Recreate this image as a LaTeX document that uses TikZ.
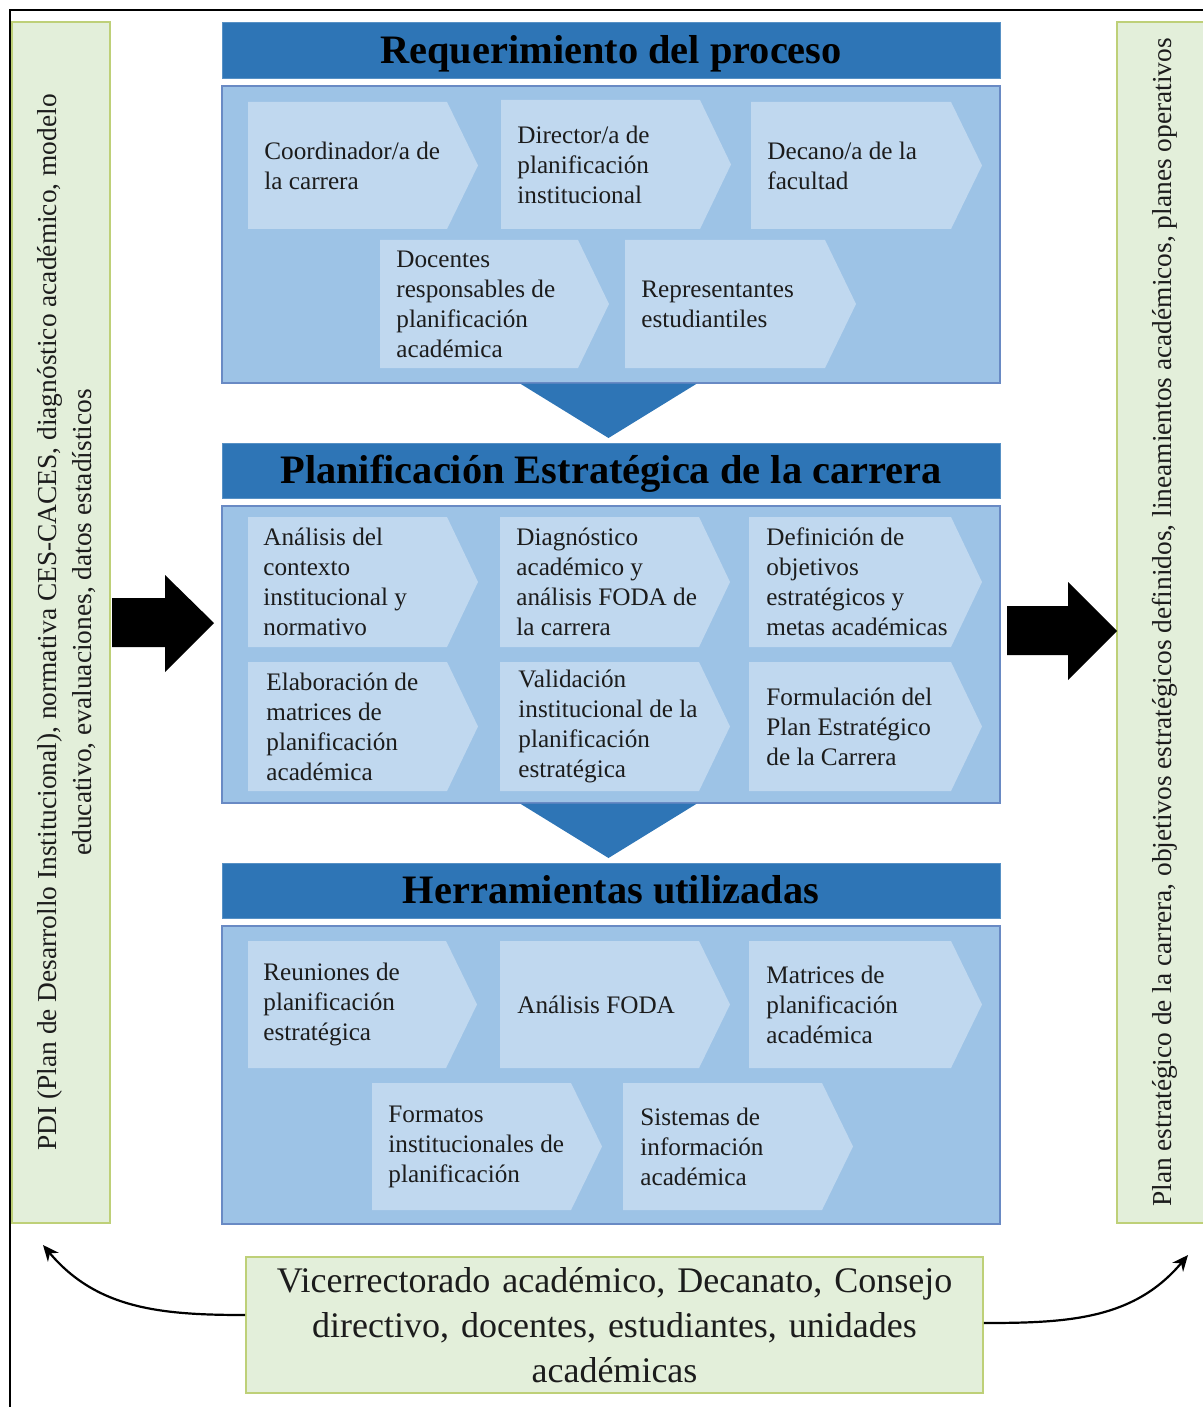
\documentclass[tikz,border=0pt]{standalone}
\usepackage{fontspec}
\setmainfont{Liberation Serif}
\usetikzlibrary{arrows.meta}
\definecolor{titleblue}{RGB}{46,117,182}
\definecolor{panelblue}{RGB}{157,195,230}
\definecolor{panelborder}{RGB}{105,138,196}
\definecolor{chevblue}{RGB}{192,216,239}
\definecolor{greenfill}{RGB}{227,239,218}
\definecolor{greenborder}{RGB}{190,208,120}
\definecolor{inktext}{RGB}{28,28,28}
\tikzset{
  titlebar/.style={fill=titleblue, draw=titleblue!80!white, line width=0.4pt, inner sep=0pt,
    minimum width=389pt, text height=13.3pt, text depth=0pt,
    font=\bfseries\fontsize{20.2}{24}\selectfont, text=black},
  panel/.style={fill=panelblue, draw=panelborder, line width=0.6pt, inner sep=0pt, minimum width=389pt},
  chevfill/.style={fill=chevblue},
  chevtext/.style={inner sep=0pt, align=left, anchor=west, text=inktext,
    font=\fontsize{12.6}{15}\selectfont},
  sidepanel/.style={fill=greenfill, draw=greenborder, line width=0.7pt, inner sep=0pt},
  sidetext/.style={inner sep=0pt, align=center, rotate=90, text=inktext,
    font=\fontsize{13.7}{17.5}\selectfont},
  actorbox/.style={fill=greenfill, draw=greenborder, line width=0.8pt, inner sep=0pt,
    align=center, text width=360pt, text=inktext, font=\fontsize{18}{22.5}\selectfont},
  blockarrow/.style={fill=black},
  curvearrow/.style={line width=1.1pt, -{Stealth[length=8pt,width=7pt]}},
  funnel/.style={fill=titleblue}
}
\newcommand{\chevbox}[7]{%
  \fill[chevfill] (#1,#2) -- ({#3-31},#2) -- (#3,{(#2+#4)/2}) -- ({#3-31},#4) -- (#1,#4) -- cycle;
  \node[chevtext] (#5) at (#6,{(#2+#4)/2}) {#7};
}
\begin{document}
\begin{tikzpicture}[x=0.5pt,y=-0.5pt]
\useasboundingbox (0,0) rectangle (1203,1407);
% outer frame
\draw[line width=1.1pt] (10,1430) -- (10,10) -- (1230,10);

% side panels
\node[sidepanel, minimum width=49pt, minimum height=600.5pt] (inpanel) at (61,622.5) {};
\node[sidetext] (intext) at (67,622.5) {PDI (Plan de Desarrollo Institucional), normativa CES-CACES, diagnóstico académico, modelo\\educativo, evaluaciones, datos estadísticos};
\node[sidepanel, minimum width=48pt, minimum height=600.5pt] (outpanel) at (1165,622.5) {};
\node[sidetext] (outtext) at (1165,622.5) {Plan estratégico de la carrera, objetivos estratégicos definidos, lineamientos académicos, planes operativos};

% titles
\node[titlebar, minimum height=28pt] (t1) at (611,50) {Requerimiento del proceso};
\node[titlebar, minimum height=27.5pt] (t2) at (611,470.5) {Planificación Estratégica de la carrera};
\node[titlebar, minimum height=27.5pt] (t3) at (611,890.5) {Herramientas utilizadas};

% panels
\node[panel, minimum height=148.5pt] (p1) at (611,234.5) {};
\node[panel, minimum height=148.5pt] (p2) at (611,654.5) {};
\node[panel, minimum height=149pt] (p3) at (611,1075) {};

% funnels
\fill[funnel] (520,383.5) -- (697,383.5) -- (608.5,438) -- cycle;
\fill[funnel] (520,803.5) -- (697,803.5) -- (608.5,858) -- cycle;

% panel 1 chevrons
\chevbox{248}{102}{478}{229}{c11}{264}{Coordinador/a de\\la carrera}
\chevbox{501}{100}{731}{229}{c12}{517}{Director/a de\\planificación\\institucional}
\chevbox{751}{102}{982}{229}{c13}{767}{Decano/a de la\\facultad}
\chevbox{380}{240}{609}{368}{c14}{396}{Docentes\\responsables de\\planificación\\académica}
\chevbox{625}{240}{856}{368}{c15}{641}{Representantes\\estudiantiles}

% panel 2 chevrons
\chevbox{248}{517}{478}{647}{c21}{263}{Análisis del\\contexto\\institucional y\\normativo}
\chevbox{500}{517}{730}{647}{c22}{516}{Diagnóstico\\académico y\\análisis FODA de\\la carrera}
\chevbox{749}{517}{982}{647}{c23}{766}{Definición de\\objetivos\\estratégicos y\\metas académicas}
\chevbox{248}{662}{478}{791}{c24}{266}{Elaboración de\\matrices de\\planificación\\académica}
\chevbox{500}{662}{730}{791}{c25}{518}{Validación\\institucional de la\\planificación\\estratégica}
\chevbox{749}{662}{982}{791}{c26}{766}{Formulación del\\Plan Estratégico\\de la Carrera}

% panel 3 chevrons
\chevbox{248}{941}{477}{1068}{c31}{263}{Reuniones de\\planificación\\estratégica}
\chevbox{500}{941}{730}{1068}{c32}{517}{Análisis FODA}
\chevbox{749}{941}{982}{1068}{c33}{766}{Matrices de\\planificación\\académica}
\chevbox{372}{1083}{602}{1210}{c34}{388}{Formatos\\institucionales de\\planificación}
\chevbox{623}{1083}{853}{1210}{c35}{640}{Sistemas de\\información\\académica}

% block arrows
\fill[blockarrow] (112,598) -- (165,598) -- (165,575) -- (214,623) -- (165,672) -- (165,647) -- (112,647) -- cycle;
\fill[blockarrow] (1007,606) -- (1068,606) -- (1068,582) -- (1117,631) -- (1068,680) -- (1068,655) -- (1007,655) -- cycle;

% actors box
\node[actorbox, minimum width=368.5pt, minimum height=68pt] (actors) at (614.5,1325) {Vicerrectorado académico, Decanato, Consejo\\directivo, docentes, estudiantes, unidades\\académicas};

\coordinate (intip) at (43,1245);
\coordinate (outtip) at (1188,1255);
\draw[curvearrow] ([yshift=5pt]actors.west) to[out=180,in=-50] (intip);
\draw[curvearrow] ([yshift=1pt]actors.east) to[out=0,in=-130] (outtip);
\end{tikzpicture}
\end{document}
